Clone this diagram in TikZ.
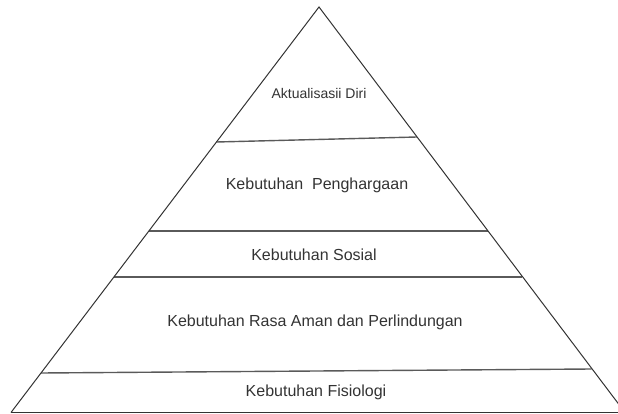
\documentclass[tikz,border=0pt]{standalone}
\usepackage{fontspec}
\setmainfont{Liberation Sans}
\definecolor{txt}{HTML}{333333}
\definecolor{edge}{HTML}{333333}
\definecolor{band}{HTML}{5A5A5A}
\begin{document}
\begin{tikzpicture}[x=1pt,y=-1pt,
  edgeline/.style={draw=edge,line width=1pt},
  bandline/.style={draw=band,line width=1.4pt},
  lbl/.style={text=txt,font=\fontsize{16}{18}\selectfont,inner sep=0pt},
  smalllbl/.style={text=txt,font=\fontsize{14}{16}\selectfont,inner sep=0pt}]
\useasboundingbox (0,0) rectangle (618,414);
\begin{scope}
\clip (0,0) rectangle (618,414);
\coordinate (apex) at (319,7);
\coordinate (bl) at (11,412.5);
\coordinate (br) at (625,412.5);
% bands
\coordinate (l1) at (216.5,142);
\coordinate (r1) at (416.9,137);
\coordinate (l2) at (149,231);
\coordinate (r2) at (487.7,231);
\coordinate (l3) at (114,277);
\coordinate (r3) at (522,277);
\coordinate (l4) at (41,373);
\coordinate (r4) at (591.6,369);
\draw[bandline] (l1) -- (r1);
\draw[bandline] (l2) -- (r2);
\draw[bandline] (l3) -- (r3);
\draw[bandline] (l4) -- (r4);
\draw[edgeline] (bl) -- (apex) -- (br);
\draw[edgeline] (bl) -- (br);
\end{scope}
\node[smalllbl] (t1) at (319,93) {Aktualisasii Diri};
\node[lbl] (t2) at (317,185) {Kebutuhan\ \ Penghargaan};
\node[lbl] (t3) at (314,255) {Kebutuhan Sosial};
\node[lbl] (t4) at (315,322) {Kebutuhan Rasa Aman dan Perlindungan};
\node[lbl] (t5) at (316,392) {Kebutuhan Fisiologi};
\end{tikzpicture}
\end{document}
